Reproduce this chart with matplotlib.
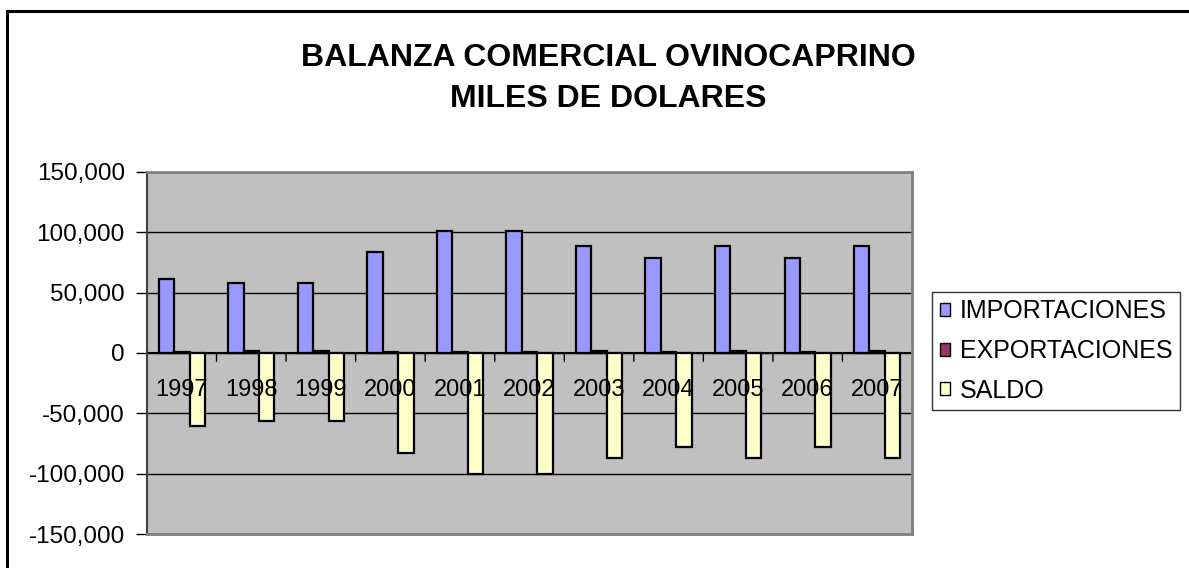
import numpy as np
import matplotlib
matplotlib.use("Agg")
import matplotlib.pyplot as plt
from matplotlib.ticker import FuncFormatter
from matplotlib.patches import Rectangle

plt.rcParams['font.family'] = ['Liberation Sans', 'DejaVu Sans']

# datos (miles de dolares)
years = ['1997', '1998', '1999', '2000', '2001', '2002', '2003', '2004', '2005', '2006', '2007']
importaciones = [61300, 58000, 58000, 83900, 101300, 101300, 88600, 79000, 88600, 79000, 88600]
exportaciones = [1100, 1500, 1400, 1200, 1000, 1000, 1300, 1000, 1300, 1000, 1300]
saldo = [-60200, -56500, -56600, -82700, -100300, -100300, -87300, -78000, -87300, -78000, -87300]

fig = plt.figure(figsize=(11.89, 5.68), dpi=100)
ax = fig.add_axes([147/1189, 1 - 534/568, (912 - 147)/1189, (534 - 172)/568])

# borde exterior del grafico
fig.patches.append(Rectangle((7/1189, -0.1), 1.2, 1 - 11/568 + 0.1, transform=fig.transFigure,
                             fill=False, edgecolor='black', linewidth=2.2, zorder=0))

x = np.arange(len(years)) + 0.5
w = 1 / 4.5
kw = dict(width=w, edgecolor='black', linewidth=1.6, zorder=3)
ax.bar(x - w, importaciones, color='#9999FF', label='IMPORTACIONES', **kw)
ax.bar(x, exportaciones, color='#993366', label='EXPORTACIONES', **kw)
ax.bar(x + w, saldo, color='#FFFFCC', label='SALDO', **kw)

ax.set_xlim(0, len(years))
ax.set_ylim(-150000, 150000)
ax.set_yticks(np.arange(-150000, 150001, 50000))
ax.yaxis.set_major_formatter(FuncFormatter(lambda v, p: f"{int(v):,}"))
ax.tick_params(axis='y', labelsize=17.5, length=8, width=1, pad=8, color='black')
ax.set_xticks([])
ax.set_facecolor('#C0C0C0')
ax.yaxis.grid(True, color='black', linewidth=1)
ax.set_axisbelow(True)
for s in ['top', 'right', 'bottom']:
    ax.spines[s].set_color('#808080')
    ax.spines[s].set_linewidth(2)
ax.spines['left'].set_color('#404040')
ax.spines['left'].set_linewidth(1.5)

# eje de categorias en cero
ax.axhline(0, color='black', linewidth=1.5, zorder=2)
for b in range(1, len(years)):
    ax.annotate('', xy=(b, 0), xytext=(0, -6), textcoords='offset points',
                arrowprops=dict(arrowstyle='-', color='black', lw=1, shrinkA=0, shrinkB=0))
for xi, yr in zip(x, years):
    ax.annotate(yr, xy=(xi, 0), xytext=(0, -27), textcoords='offset points',
                ha='center', va='center', fontsize=17, zorder=10)

fig.text(608/1189, 1 - 58/568, 'BALANZA COMERCIAL OVINOCAPRINO', ha='center', va='center',
         fontsize=23, fontweight='bold')
fig.text(608/1189, 1 - 99/568, 'MILES DE DOLARES', ha='center', va='center',
         fontsize=23, fontweight='bold')

leg = fig.legend(loc='upper left', bbox_to_anchor=(932/1189, 1 - 292/568), fontsize=18,
                 frameon=True, fancybox=False, handlelength=0.42, handleheight=0.42,
                 handletextpad=0.4, labelspacing=0.62, borderpad=0.3, borderaxespad=0)
leg.get_frame().set_edgecolor('black')
leg.get_frame().set_linewidth(1)
for h in leg.legend_handles:
    h.set_linewidth(1)

fig.savefig('out.png', dpi=100)
